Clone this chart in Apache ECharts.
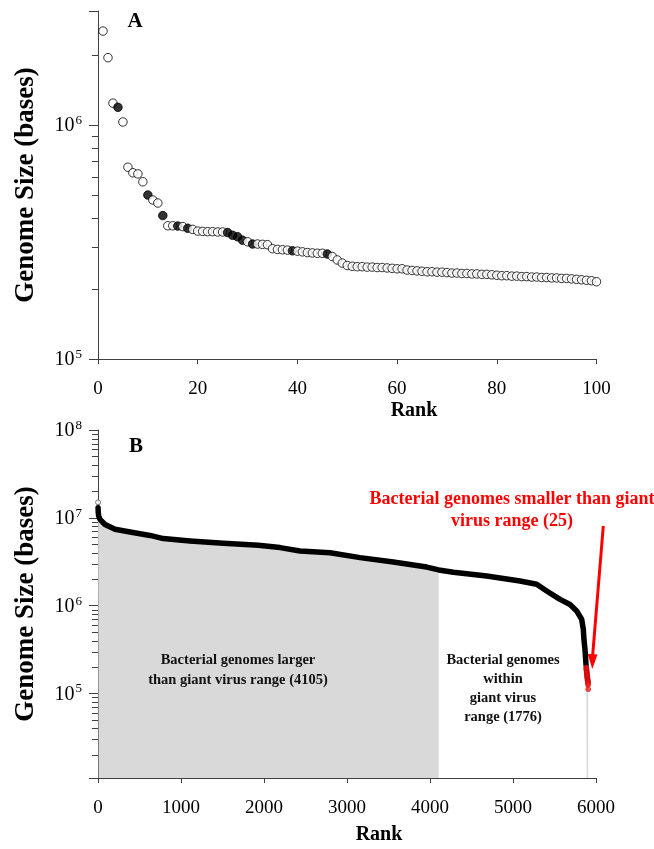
<!DOCTYPE html>
<html><head><meta charset="utf-8">
<script src="https://cdn.jsdelivr.net/npm/echarts@6/dist/echarts.min.js"></script>
<style>html,body{margin:0;padding:0;background:#fff}#c{width:654px;height:849px}</style>
</head><body><div id="c"></div>
<script>
// ---------- Panel A: giant virus genomes, ranks 1..100 ----------
const sizeA = [
 2.52e6,1.94e6,1.24e6,1.19e6,1.03e6,6.6e5,6.25e5,6.18e5,5.72e5,5.02e5,
 4.78e5,4.64e5,4.1e5,3.71e5,3.71e5,3.70e5,3.68e5,3.62e5,3.58e5,3.52e5,
 3.51e5,3.50e5,3.50e5,3.49e5,3.49e5,3.47e5,3.38e5,3.33e5,3.22e5,3.17e5,
 3.10e5,3.10e5,3.09e5,3.08e5,2.96e5,2.94e5,2.93e5,2.92e5,2.90e5,2.89e5,
 2.87e5,2.85e5,2.84e5,2.83e5,2.83e5,2.81e5,2.74e5,2.65e5,2.57e5,2.51e5,
 2.49e5,2.48e5,2.48e5,2.47e5,2.47e5,2.46e5,2.46e5,2.45e5,2.44e5,2.43e5,
 2.43e5,2.40e5,2.39e5,2.38e5,2.37e5,2.36e5,2.36e5,2.35e5,2.35e5,2.34e5,
 2.33e5,2.33e5,2.32e5,2.32e5,2.31e5,2.31e5,2.30e5,2.30e5,2.29e5,2.28e5,
 2.27e5,2.27e5,2.26e5,2.26e5,2.25e5,2.25e5,2.24e5,2.24e5,2.23e5,2.23e5,
 2.22e5,2.22e5,2.21e5,2.21e5,2.20e5,2.19e5,2.18e5,2.17e5,2.16e5,2.14e5
];
const filledRanksA = [4,10,13,16,18,26,27,28,29,31,39,46];
const xTicksA = [0, 100, 20];          // min, max, interval
const yRangeA = [1e5, 3.07e6];

// ---------- Panel B: bacterial genomes ranked ----------
const rankB = [1,3,8,24,84,205,386,627,787,1108,1510,1932,2193,2434,2795,3157,3558,3960,4105,
               4281,4683,5084,5285,5406,5566,5687,5767,5827,5847,5855,5867,5880];
const sizeB = [1.3e7,1.15e7,1.05e7,9.6e6,8.4e6,7.4e6,6.9e6,6.3e6,5.8e6,5.45e6,5.13e6,4.87e6,4.58e6,4.19e6,4.0e6,3.52e6,3.14e6,2.75e6,2.55e6,
               2.4e6,2.17e6,1.91e6,1.75e6,1.47e6,1.18e6,1.03e6,8.7e5,7.0e5,5.4e5,4.1e5,3.2e5,2.1e5];
const rankRed = [5882,5883,5884,5885,5886,5887,5888,5889,5890,5891,5892,5893,5894,5895,5896,5897,5898,5899,5900,5901,5902,5903,5904,5905,5906];
const sizeRed = [1.98e5,1.95e5,1.9e5,1.87e5,1.85e5,1.8e5,1.76e5,1.72e5,1.7e5,1.66e5,1.62e5,1.6e5,1.56e5,1.52e5,1.5e5,1.47e5,1.45e5,1.42e5,1.4e5,1.38e5,1.35e5,1.33e5,1.3e5,1.25e5,1.12e5];
const topPointB = [1, 1.5e7];
const largerLimitRank = 4105;
const xTicksB = [0, 6000, 1000];
const yRangeB = [1.09e4, 1e8];

const minorA = [2e5,3e5,4e5,5e5,6e5,7e5,8e5,9e5,2e6];
const minorB = [];
[1e4,1e5,1e6,1e7].forEach(d => { for (let m = 2; m <= 9; m++) { if (m*d > yRangeB[0]) minorB.push(m*d); } });

const SERIF = '"Liberation Serif", "Times New Roman", serif';
const AX = '#404040';

function powLabel(v) {
  const e = Math.log10(v);
  if (Math.abs(e - Math.round(e)) < 1e-6) return '{b|10}{s|' + Math.round(e) + '}';
  return '';
}
const yLabel = {
  formatter: powLabel, margin: 16, color: '#000',
  rich: {
    b: {fontFamily: SERIF, fontSize: 20, color: '#000', lineHeight: 22, verticalAlign: 'bottom'},
    s: {fontFamily: SERIF, fontSize: 13, color: '#000', lineHeight: 22, verticalAlign: 'top', padding: [0,0,0,1]}
  }
};

function yAxisCfg(gi, range) {
  return {
    type: 'log', logBase: 10, gridIndex: gi, min: range[0], max: range[1],
    name: 'Genome Size (bases)', nameLocation: 'middle', nameRotate: 90, nameGap: 58,
    nameTextStyle: {fontFamily: SERIF, fontWeight: 'bold', fontSize: 27, color: '#000'},
    axisLine: {show: true, lineStyle: {color: AX, width: 1}},
    axisTick: {show: true, inside: false, length: 9, lineStyle: {color: AX}},
    axisLabel: yLabel, splitLine: {show: false}, minorTick: {show: false}
  };
}
function xAxisCfg(gi, t) {
  return {
    type: 'value', gridIndex: gi, min: t[0], max: t[1], interval: t[2],
    axisLine: {show: true, onZero: false, lineStyle: {color: AX, width: 1}},
    axisTick: {show: true, inside: false, length: 5, lineStyle: {color: AX}},
    axisLabel: {fontFamily: SERIF, fontSize: 19, color: '#000', margin: 21, formatter: v => String(v)},
    splitLine: {show: false}
  };
}
function minorTickSeries(xi, yi, vals) {
  return {
    type: 'custom', xAxisIndex: xi, yAxisIndex: yi, clip: false, silent: true, z: 5,
    data: vals.map(v => [0, v]),
    renderItem: function (params, api) {
      const p = api.coord([0, api.value(1)]);
      const y = Math.round(p[1]) + 0.5;
      return {type: 'line', shape: {x1: p[0] - 6, y1: y, x2: p[0], y2: y},
              style: {stroke: AX, lineWidth: 1}};
    }
  };
}

const dataA = sizeA.map((v, i) => {
  const r = i + 1;
  const filled = filledRanksA.indexOf(r) >= 0;
  return {value: [r, v], itemStyle: {color: filled ? '#000' : '#fff', borderColor: '#000', borderWidth: 1}};
});
const lineB = rankB.map((r, i) => [r, sizeB[i]]);
const areaB = lineB.filter(d => d[0] <= largerLimitRank);
const redB = rankRed.map((r, i) => [r, sizeRed[i]]);

const chart = echarts.init(document.getElementById('c'), null, {renderer: 'canvas'});
chart.setOption({
  animation: false,
  backgroundColor: '#fff',
  grid: [
    {left: 98, right: 57.5, top: 11, bottom: 490, containLabel: false, outerBoundsMode: 'none'},
    {left: 98, right: 58, top: 430, bottom: 71, containLabel: false, outerBoundsMode: 'none'}
  ],
  xAxis: [xAxisCfg(0, xTicksA), xAxisCfg(1, xTicksB)],
  yAxis: [yAxisCfg(0, yRangeA), yAxisCfg(1, yRangeB)],
  series: [
    minorTickSeries(0, 0, minorA),
    minorTickSeries(1, 1, minorB),
    {
      type: 'scatter', xAxisIndex: 0, yAxisIndex: 0, symbol: 'circle', symbolSize: 8.5,
      data: dataA, z: 3
    },
    {
      type: 'line', xAxisIndex: 1, yAxisIndex: 1, data: areaB, symbol: 'none', silent: true,
      lineStyle: {width: 0, opacity: 0}, areaStyle: {color: '#d9d9d9', opacity: 1, origin: 'start'}, z: 1
    },
    {
      type: 'line', xAxisIndex: 1, yAxisIndex: 1, data: redB, symbol: 'none', silent: true,
      lineStyle: {width: 0, opacity: 0}, areaStyle: {color: '#d9d9d9', opacity: 1, origin: 'start'}, z: 1
    },
    {
      type: 'line', xAxisIndex: 1, yAxisIndex: 1, data: lineB, symbol: 'none', silent: true,
      lineStyle: {color: '#000', width: 5.5, cap: 'round', join: 'round'}, z: 3
    },
    {
      type: 'scatter', xAxisIndex: 1, yAxisIndex: 1, data: redB, symbol: 'circle', symbolSize: 5,
      itemStyle: {color: '#ff1a1a', borderColor: '#b00000', borderWidth: 0.5}, z: 4
    },
    {
      type: 'scatter', xAxisIndex: 1, yAxisIndex: 1, data: [topPointB], symbol: 'circle', symbolSize: 5,
      itemStyle: {color: '#fff', borderColor: '#555', borderWidth: 1}, z: 4
    }
  ],
  graphic: [
    {type: 'text', z: 100, style: {text: 'A', x: 135, y: 22, align: 'center', verticalAlign: 'middle', font: 'bold 21px ' + SERIF, fill: '#000'}},
    {type: 'text', z: 100, style: {text: 'B', x: 136, y: 447, align: 'center', verticalAlign: 'middle', font: 'bold 21px ' + SERIF, fill: '#000'}},
    {type: 'text', z: 100, style: {text: 'Rank', x: 414, y: 411, align: 'center', verticalAlign: 'middle', font: 'bold 20px ' + SERIF, fill: '#000'}},
    {type: 'text', z: 100, style: {text: 'Rank', x: 379, y: 835, align: 'center', verticalAlign: 'middle', font: 'bold 20px ' + SERIF, fill: '#000'}},
    {type: 'text', z: 100, style: {text: 'Bacterial genomes smaller than giant\nvirus range (25)', x: 512, y: 510, align: 'center', verticalAlign: 'middle', font: 'bold 18px ' + SERIF, lineHeight: 22, fill: '#ff0000'}},
    {type: 'text', z: 100, style: {text: 'Bacterial genomes larger\nthan giant virus range (4105)', x: 238, y: 670, align: 'center', verticalAlign: 'middle', font: 'bold 14.5px ' + SERIF, lineHeight: 20, fill: '#111'}},
    {type: 'text', z: 100, style: {text: 'Bacterial genomes\nwithin\ngiant virus\nrange (1776)', x: 503, y: 688.5, align: 'center', verticalAlign: 'middle', font: 'bold 14.5px ' + SERIF, lineHeight: 19, fill: '#111'}},
    {type: 'line', z: 100, shape: {x1: 603.3, y1: 526, x2: 592.6, y2: 656}, style: {stroke: '#ff0000', lineWidth: 3}},
    {type: 'polygon', z: 100, shape: {points: [[592.3, 669], [597.5, 654.5], [587.6, 654]]}, style: {fill: '#ff0000'}}
  ]
});
</script>
</body></html>
